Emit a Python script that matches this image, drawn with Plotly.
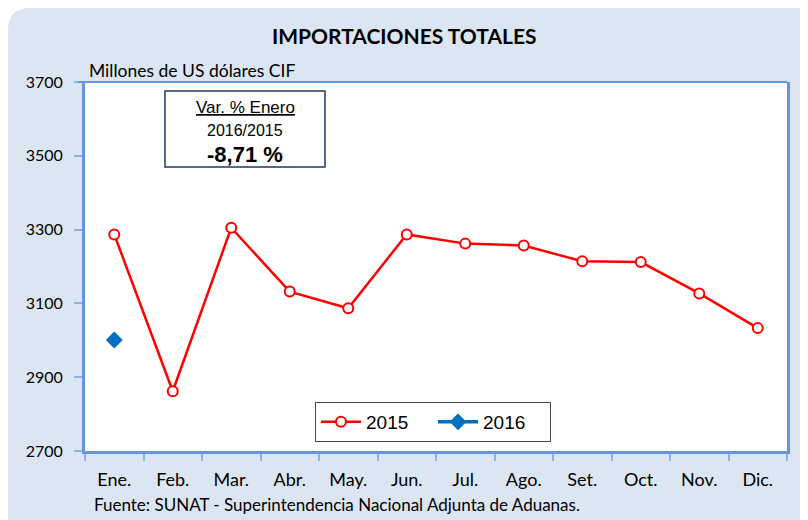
import plotly.graph_objects as go

months = ["Ene.", "Feb.", "Mar.", "Abr.", "May.", "Jun.", "Jul.", "Ago.", "Set.", "Oct.", "Nov.", "Dic."]
v2015 = [3287, 2862, 3305, 3132, 3087, 3287, 3262, 3257, 3214, 3212, 3127, 3033]
months2016 = ["Ene."]
v2016 = [3001]
yticks = [2700, 2900, 3100, 3300, 3500, 3700]

# page body has an 8px margin; figure is sized to fill the rest of the window
OFF = 8
W, H = 808 - OFF, 520 - OFF
# plot area in window pixels
L, R, T, B = 85, 787, 82, 451
AXC = "#6596dc"
TICKC = "#8db3e2"

def px(x):
    return (x - L) / (R - L)

def py(y):
    return (B - y) / (B - T)

fig = go.Figure()
fig.add_trace(go.Scatter(x=months, y=v2015, name="2015", mode="lines+markers",
                         line=dict(color="#ff0000", width=2.5),
                         marker=dict(symbol="circle", size=10, color="white",
                                     line=dict(color="#ff0000", width=2))))
fig.add_trace(go.Scatter(x=months2016, y=v2016, name="2016", mode="lines+markers",
                         line=dict(color="#0070c0", width=3.5),
                         marker=dict(symbol="diamond", size=13, color="#0070c0")))

# rounded background panel
x0, y0, x1, y1, r = px(8), py(8), px(830), py(540), 22
rx = r / (R - L)
ry = r / (B - T)
path = (f"M {x0},{y1} L {x0},{y0 - ry} Q {x0},{y0} {x0 + rx},{y0} "
        f"L {x1},{y0} L {x1},{y1} Z")
shapes = [
    dict(type="path", xref="paper", yref="paper", path=path,
         fillcolor="#dce6f2", line=dict(width=0), layer="below"),
    dict(type="rect", xref="paper", yref="paper", x0=0, y0=0, x1=1, y1=1,
         fillcolor="white", line=dict(width=0), layer="below"),
    dict(type="line", xref="paper", yref="paper", x0=px(78), x1=1, y0=1, y1=1,
         line=dict(color=AXC, width=2)),
    # annotation box
    dict(type="rect", xref="paper", yref="paper", x0=px(165), x1=px(325), y0=py(167), y1=py(91),
         fillcolor="white", line=dict(color="#1f3864", width=1.5)),
]

annotations = [
    dict(text="<b>IMPORTACIONES TOTALES</b>", xref="paper", yref="paper",
         x=px(404), y=py(35), xanchor="center", yanchor="middle", showarrow=False,
         font=dict(family="Lato", size=21, color="black")),
    dict(text="Millones de US dólares CIF", xref="paper", yref="paper",
         x=px(87), y=py(70), xanchor="left", yanchor="middle", showarrow=False,
         font=dict(family="Lato", size=17.5, color="black")),
    dict(text="<u>Var. % Enero</u>", xref="paper", yref="paper",
         x=px(245), y=py(107), xanchor="center", yanchor="middle", showarrow=False,
         font=dict(family="Liberation Sans", size=17, color="black")),
    dict(text="2016/2015", xref="paper", yref="paper",
         x=px(245), y=py(130), xanchor="center", yanchor="middle", showarrow=False,
         font=dict(family="Liberation Sans", size=16, color="black")),
    dict(text="<b>-8,71 %</b>", xref="paper", yref="paper",
         x=px(245), y=py(154), xanchor="center", yanchor="middle", showarrow=False,
         font=dict(family="Liberation Sans", size=22, color="black")),
    dict(text="Fuente: SUNAT - Superintendencia Nacional Adjunta de Aduanas.", xref="paper", yref="paper",
         x=px(92), y=py(505), xanchor="left", yanchor="middle", showarrow=False,
         font=dict(family="Lato", size=17, color="black")),
]

fig.update_layout(
    width=W, height=H,
    margin=dict(l=L - OFF, r=W - (R - OFF), t=T - OFF, b=H - (B - OFF)),
    paper_bgcolor="white", plot_bgcolor="rgba(0,0,0,0)",
    shapes=shapes, annotations=annotations,
    showlegend=True,
    legend=dict(orientation="h", x=px(433), y=py(402), xanchor="center", yanchor="top",
                bgcolor="white", bordercolor="#404a5a", borderwidth=1,
                font=dict(family="Liberation Sans", size=19, color="black"),
                itemwidth=40, entrywidth=62, tracegroupgap=0),
    font=dict(family="Lato", size=16, color="black"),
)
fig.update_xaxes(type="category", categoryorder="array", categoryarray=months,
                 range=[-0.5, 11.5], showgrid=False, zeroline=False,
                 showline=True, linecolor=AXC, linewidth=3,
                 ticks="outside", tickson="boundaries", ticklen=7, tickcolor=TICKC, tickwidth=1.5,
                 tickfont=dict(family="Lato", size=18), ticklabelstandoff=10)
fig.update_yaxes(range=[2700, 3700], tickvals=yticks, ticktext=[str(v) for v in yticks],
                 showgrid=False, zeroline=False,
                 showline=True, linecolor=AXC, linewidth=3, mirror=True,
                 ticks="outside", ticklen=8, tickcolor=TICKC, tickwidth=1.5,
                 tickfont=dict(family="Lato", size=16), ticklabelstandoff=8)

fig.write_html("out.html")
